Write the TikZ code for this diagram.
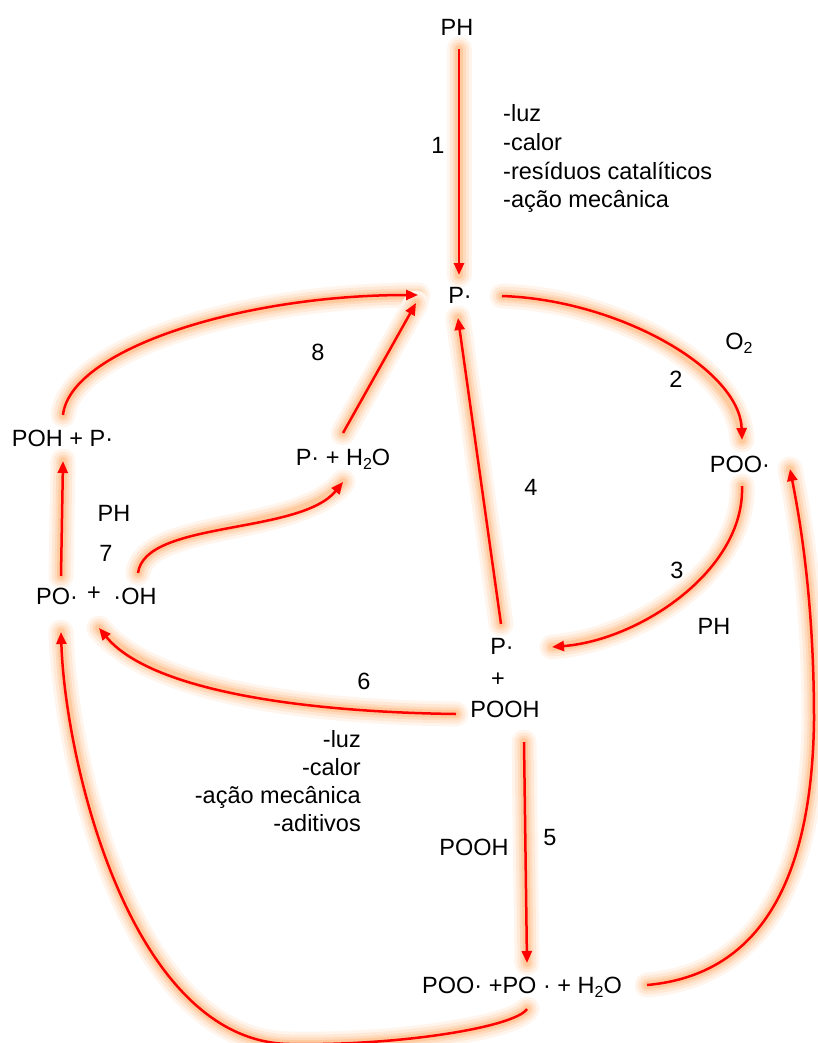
\documentclass[tikz,border=0pt]{standalone}
\usepackage{fontspec}
\setmainfont{Liberation Sans}
\usetikzlibrary{arrows.meta,calc}
\pgfdeclarelayer{bg}
\pgfsetlayers{bg,main}
\definecolor{gA}{RGB}{255,245,237}
\definecolor{gB}{RGB}{255,233,214}
\definecolor{gC}{RGB}{255,218,188}
\definecolor{gD}{RGB}{255,202,158}
\definecolor{rxred}{RGB}{255,0,0}
\newcommand\mysubtwo{\raisebox{-4.5pt}{\fontsize{16}{16}\selectfont 2}}
\tikzset{
  lbl/.style={inner sep=0pt, anchor=base, font=\fontsize{23.5}{28}\selectfont},
  lbll/.style={lbl, anchor=base west},
  lblr/.style={lbl, anchor=base east},
  glow/.style={draw=gD, line width=8pt, line cap=round,
    preaction={draw=gA, line width=25pt, line cap=round},
    preaction={draw=gB, line width=19pt, line cap=round},
    preaction={draw=gC, line width=13pt, line cap=round}},
  rxn/.style={draw=rxred, line width=2.5pt, -{Triangle[length=12pt,width=10pt]}},
}
\newcommand\rxnpaths[1]{%
  \draw[#1] ($(PH.base)+(2,13)$) -- ($(P1.base)+(-1,-28)$);
  \draw[#1] ($(P1.base)+(42,-7)$) .. controls ($(P1.base)+(160,-3)$) and ($(POO.base)+(0,-102)$) .. ($(POO.base)+(2,-32)$);
  \draw[#1] ($(POO.base)+(2,14)$) .. controls ($(POO.base)+(5,98)$) and ($(Pa.base)+(138,-14)$) .. ($(Pa.base)+(50,-7)$);
  \draw[#1] ($(Pa.base)+(-1,-30)$) -- ($(P1.base)+(-2,15)$);
  \draw[#1] ($(POOHa.base)+(19,25)$) -- ($(BOT.base)+(5,-30)$);
  \draw[#1] ($(POOHa.base)+(-49,-3)$) .. controls ($(POOHa.base)+(-205,-5)$) and ($(plb.base)+(56,90)$) .. ($(plb.base)+(5,28)$);
  \draw[#1] ($(PO.base)+(4,-28)$) -- ($(POHP.base)+(0.5,15)$);
  \draw[#1] ($(POHP.base)+(0.5,-31)$) .. controls ($(POHP.base)+(7.5,-96)$) and ($(P1.base)+(-220,-8)$) .. ($(P1.base)+(-42,-8)$);
  \draw[#1] ($(OH.base)+(3,-31)$) .. controls ($(OH.base)+(10,-84)$) and ($(PH2O.base)+(-43,70)$) .. ($(PH2O.base)+(0,17)$);
  \draw[#1] ($(PH2O.base)+(0,-32)$) -- ($(P1.base)+(-44,0)$);
  \draw[#1] ($(BOT.base)+(5,16)$) .. controls ($(BOT.base)+(-7,34)$) and ($(BOT.base)+(-122,53)$) .. ($(BOT.base)+(-232,51)$)
     .. controls ($(PO.base)+(73,438)$) and ($(PO.base)+(8,156)$) .. ($(PO.base)+(4,28)$);
  \draw[#1] ($(BOT.base)+(125,-8)$) .. controls ($(BOT.base)+(238,-18)$) and ($(POO.base)+(72,408)$) .. ($(POO.base)+(74,248)$)
     .. controls ($(POO.base)+(74,128)$) and ($(POO.base)+(60,48)$) .. ($(POO.base)+(50,-3)$);
}
\begin{document}
\begin{tikzpicture}[x=1pt,y=-1pt]
\useasboundingbox (0,0) rectangle (817,1043);
% labels
\node[lbl] (PH) at (457,36) {PH};
\node[lbl] (n1) at (438,154) {1};
\node[lbll] (c1) at (503,122) {-luz};
\node[lbll] (c2) at (503,150.5) {-calor};
\node[lbll] (c3) at (503,179) {-resíduos catalíticos};
\node[lbll] (c4) at (503,207.5) {-ação mecânica};
\node[lbl] (P1) at (460,303) {P·};
\node[lbl] (O2) at (739,349) {O\mysubtwo};
\node[lbl] (n2) at (676,387) {2};
\node[lbl] (POO) at (740,472) {POO·};
\node[lbl] (n3) at (677,578) {3};
\node[lbl] (PHr) at (714,634) {PH};
\node[lbl] (n4) at (531,495) {4};
\node[lbl] (Pa) at (502,654) {P·};
\node[lbl] (pl) at (498,686) {+};
\node[lbl] (POOHa) at (505,717) {POOH};
\node[lbl] (n5) at (550,845) {5};
\node[lbl] (POOHb) at (474,855) {POOH};
\node[lbl] (n6) at (364,689) {6};
\node[lblr] (d1) at (361,747) {-luz};
\node[lblr] (d2) at (361,775) {-calor};
\node[lblr] (d3) at (361,803) {-ação mecânica};
\node[lblr] (d4) at (361,831) {-aditivos};
\node[lbl] (BOT) at (522,993) {POO· +PO · + H\mysubtwo O};
\node[lbl] (POHP) at (62.5,446) {POH + P·};
\node[lbl] (PH2O) at (343,465) {P· + H\mysubtwo O};
\node[lbl] (n8) at (318,360) {8};
\node[lbl] (PHl) at (114,521) {PH};
\node[lbl] (n7) at (106,561) {7};
\node[lbl] (PO) at (57,604) {PO·};
\node[lbl] (plb) at (94,600) {+};
\node[lbl] (OH) at (135,604) {·OH};
% arrows
\begin{pgfonlayer}{bg}
\rxnpaths{glow}
\end{pgfonlayer}
\rxnpaths{rxn}
\end{tikzpicture}
\end{document}
